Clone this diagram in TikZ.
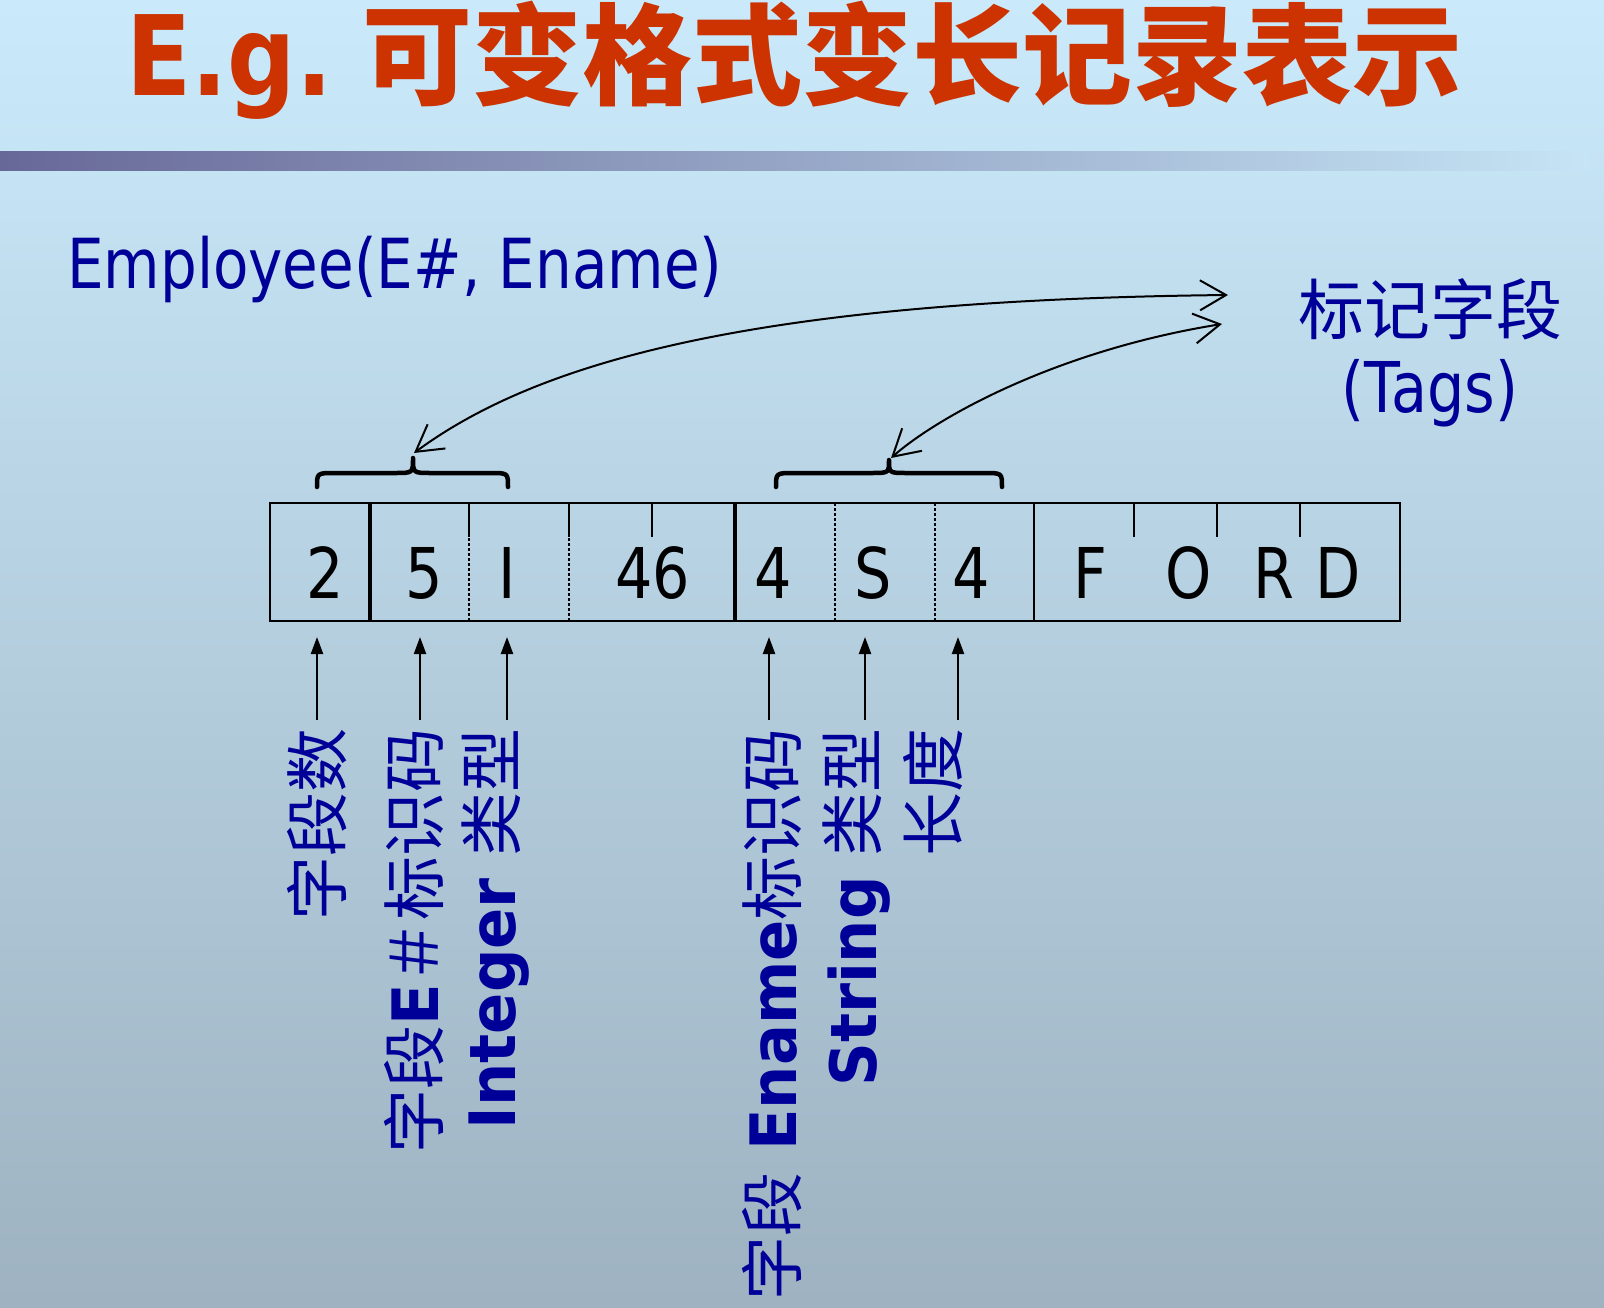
\documentclass[tikz,border=0pt]{standalone}
\usepackage{fontspec}
\usetikzlibrary{arrows.meta}
\setmainfont{DejaVu Sans}
\newfontfamily\tah{DejaVu Sans}[FakeStretch=0.84]
\newfontfamily\dvb{DejaVu Sans}[FakeStretch=0.95]
\newfontfamily\titlelat{DejaVu Sans}[FakeStretch=0.86]
\newfontfamily\cjk{Noto Sans CJK SC}
\newfontfamily\cjkt{Noto Sans CJK SC}[FakeStretch=1.0]
\definecolor{bgtop}{RGB}{202,234,251}
\definecolor{bgbot}{RGB}{158,178,193}
\definecolor{bgbar}{RGB}{197,228,245}
\definecolor{barleft}{RGB}{104,104,152}
\definecolor{titlered}{RGB}{204,51,0}
\definecolor{lblue}{RGB}{0,0,153}
\tikzset{
  lbl/.style={text=lblue, inner sep=0pt, rotate=90, anchor=east, font=\fontsize{64}{70}\selectfont},
  cell/.style={inner sep=0pt, anchor=base, font=\tah\fontsize{70}{80}\selectfont},
  uparr/.style={line width=2.2pt, -{Triangle[length=17pt,width=12pt]}},
  tagarr/.style={line width=2pt, {Straight Barb[length=26pt,width=30pt]}-{Straight Barb[length=26pt,width=30pt]}},
  bracepath/.style={line width=4.5pt, line cap=round, line join=round},
  thinline/.style={line width=2pt},
  thickline/.style={line width=4.5pt},
  dotline/.style={line width=2.5pt, dash pattern=on 2.5pt off 2.5pt},
}
\begin{document}
\begin{tikzpicture}[x=1pt,y=-1pt]
\useasboundingbox (0,0) rectangle (1604,1308);
% background
\shade[top color=bgtop, bottom color=bgbot] (0,0) rectangle (1604,1308);
\shade[left color=barleft, right color=bgbar] (0,152) rectangle (1590,171);
% title
\node[inner sep=0pt, anchor=base west, text=titlered, font=\titlelat\bfseries\fontsize{111}{120}\selectfont] (tlat) at (126,96) {E.g.};
\node[inner sep=0pt, anchor=base west, text=titlered, font=\cjkt\bfseries\fontsize{110}{120}\selectfont] (tcjk) at (362,97) {可变格式变长记录表示};
% relation
\node[inner sep=0pt, anchor=base west, text=lblue, font=\tah\fontsize{69}{80}\selectfont] (emp) at (67,288) {Employee(E\#, Ename)};
% tags label
\node[inner sep=0pt, text=lblue, font=\cjk\fontsize{66}{72}\selectfont] (tag1) at (1430,309) {标记字段};
\node[inner sep=0pt, anchor=base, text=lblue, font=\tah\fontsize{70}{80}\selectfont] (tag2) at (1430,412) {(Tags)};
% record
\node[draw, thinline, minimum width=1130pt, minimum height=118pt, inner sep=0pt] (rec) at (835,562) {};
\draw[thickline] (370,503) -- (370,621);
\draw[thickline] (735,503) -- (735,621);
\draw[thinline] (1034,503) -- (1034,621);
\foreach \xx in {469,569,835,935} {
  \draw[dotline] (\xx,503) -- (\xx,621);
}
\foreach \xx in {469,569,652,1134,1217,1300} {
  \draw[thinline] (\xx,503) -- (\xx,537);
}
\node[cell] (c1) at (325,598) {2};
\node[cell] (c2) at (424,598) {5};
\node[cell] (c3) at (507,598) {I};
\node[cell] (c4) at (653,598) {46};
\node[cell] (c5) at (773,598) {4};
\node[cell] (c6) at (873,598) {S};
\node[cell] (c7) at (971,598) {4};
\node[cell] (c8) at (1090,598) {F};
\node[cell] (c9) at (1189,598) {O};
\node[cell] (c10) at (1274,598) {R};
\node[cell] (c11) at (1338,598) {D};
% braces
\coordinate (b1) at (413,458);
\coordinate (b2) at (889,460);
\draw[bracepath] (317,487) .. controls (317,473) .. (335,473) -- (395,473) .. controls (413,473) .. (b1) .. controls (413,473) .. (431,473) -- (490,473) .. controls (508,473) .. (508,487);
\draw[bracepath] (776,487) .. controls (776,473) .. (794,473) -- (871,473) .. controls (889,473) .. (b2) .. controls (889,473) .. (907,473) -- (984,473) .. controls (1002,473) .. (1002,487);
% tag arrows
\coordinate (r1) at (1228,295);
\coordinate (r2) at (1222,324);
\coordinate (e1) at (414,453);
\coordinate (e2) at (891,458);
\draw[tagarr] (e1) .. controls (540,360) and (760,300) .. (r1);
\draw[tagarr] (e2) .. controls (940,415) and (1060,350) .. (r2);
% labels
\node[lbl] (l1) at (317,728) {\cjk 字段数};
\node[lbl] (l2) at (414,728) {{\cjk 字段}{\dvb\bfseries E}{\cjk ＃标识码}};
\node[lbl] (l3) at (496,728) {{\dvb\bfseries Integer}\hspace{22pt}{\cjk 类型}};
\node[lbl] (l4) at (772,728) {{\cjk 字段}\hspace{22pt}{\dvb\bfseries Ename}{\cjk 标识码}};
\node[lbl] (l5) at (857,728) {{\dvb\bfseries String}\hspace{20pt}{\cjk 类型}};
\node[lbl] (l6) at (933,728) {\cjk 长度};
% up arrows
\foreach \i/\xx in {1/317,2/420,3/507,4/769,5/865,6/958} {
  \coordinate (s\i) at (\xx,720);
  \coordinate (t\i) at (\xx,637);
  \draw[uparr] (s\i) -- (t\i);
}
\end{tikzpicture}
\end{document}
